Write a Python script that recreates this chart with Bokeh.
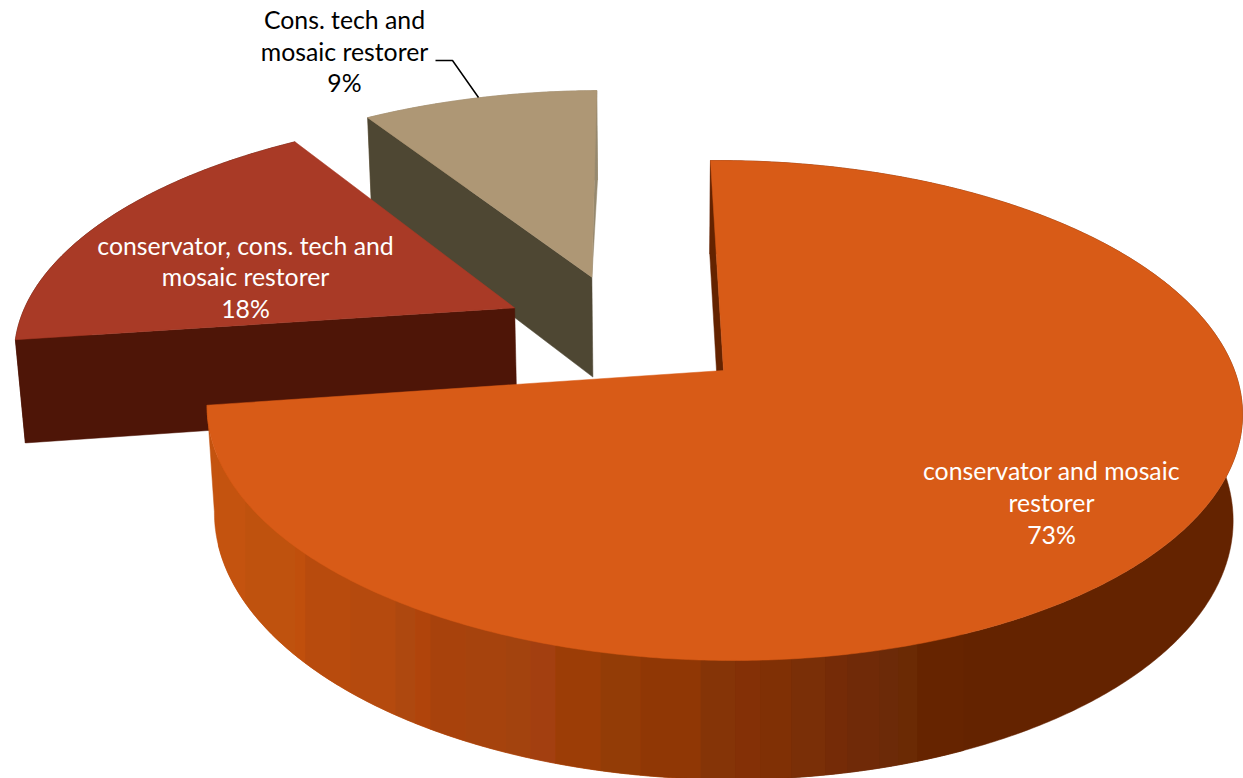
import numpy as np
from bokeh.embed import file_html
from bokeh.models import Range1d
from bokeh.plotting import figure
from bokeh.resources import INLINE

# Pie data, listed clockwise starting at the first slice
categories = ["conservator and mosaic restorer",
              "conservator, cons. tech and mosaic restorer",
              "Cons. tech and mosaic restorer"]
shares = [73, 18, 9]
start_angle = -0.8

# Exploded offset of each slice in disc units (across, away from viewer)
explode = [(0.0, 0.0), (-0.422, 0.268), (-0.268, 0.408)]

top_colors = ["#D85B17", "#A93A26", "#AE9775"]
wall_colors = ["#642300", "#4E1507", "#4E4733"]
rim_colors = ["#642300", "#4E1507", "#96896F"]

# Vertical shading bands on the front of the large slice's rim
rim_band_edges = [218, 245, 295, 305, 350, 395, 415, 430, 465, 505, 530, 555, 600, 640,
                  700, 735, 760, 791, 825, 847, 879, 898, 917, 963]
rim_band_colors = ["#C4530F", "#BF520E", "#C04F0C", "#B84B0D", "#B54A0E", "#AE480F",
                   "#B0440B", "#A8420C", "#A6430D", "#A3430E", "#A33F10", "#9C3D06",
                   "#933C06", "#903705", "#853407", "#843006", "#803005", "#7A2F07",
                   "#752B07", "#702A08", "#6C2A08", "#6B2A04", "#662400"]

# Label lines per slice
label_lines = [["conservator and mosaic", "restorer", "73%"],
               ["conservator, cons. tech and", "mosaic restorer", "18%"],
               ["Cons. tech and", "mosaic restorer", "9%"]]
label_colors = ["white", "white", "black"]
label_x = [1051, 245, 344]
label_y = [[470, 502, 534], [245, 276, 308], [19, 51, 82]]

# Camera parameters of the perspective view
CX, CY = 723.0, 370.0
AX, AY = 511.0, 243.6
SHEAR = 8.0
PERSP, DEPTH_PERSP, DEPTH, DEPTH_SKEW = 0.16, 0.016, 106.5, 1.0


def project(u, v, z=0.0):
    """Map disc coordinates (z = 0 on top, -1 on the base) to the canvas."""
    u, v = np.asarray(u, float), np.asarray(v, float)
    w = 1 + PERSP * v - DEPTH_PERSP * z
    return CX + (AX * u - SHEAR * v + DEPTH_SKEW * z) / w, CY + (-AY * v - DEPTH * z) / w


p = figure(width=1243, height=778, output_backend="svg", toolbar_location=None,
           x_range=Range1d(0, 1243), y_range=Range1d(778, 0),
           min_border=0, outline_line_color=None, background_fill_color="white")
p.axis.visible = False
p.grid.visible = False


def solid(xs, ys, color):
    p.patch(xs, ys, fill_color=color, line_color=color, line_width=0.5)


# Angular extent of every slice
spans = [s / sum(shares) * 360 for s in shares]
starts = start_angle + np.cumsum([0] + spans[:-1])

# Painted back to front so nearer slices overlap farther ones
for i in [2, 1, 0]:
    a0, a1 = starts[i], starts[i] + spans[i]
    ox, oy = explode[i]
    th_deg = np.arange(a0, a1 + 0.25, 0.5)
    th_deg[-1] = a1
    th = np.radians(th_deg)
    u, v = ox + np.sin(th), oy + np.cos(th)
    xt, yt = project(u, v)
    xb, yb = project(u, v, -1)
    hx, hy = project(ox, oy)
    hbx, hby = project(ox, oy, -1)

    # Outer rim
    if i == 0:
        split = np.searchsorted(th_deg, 180)
        solid(np.r_[xt[:split + 1], xb[:split + 1][::-1]],
              np.r_[yt[:split + 1], yb[:split + 1][::-1]], rim_colors[0])
        solid(np.r_[xt[split:], xb[split:][::-1]],
              np.r_[yt[split:], yb[split:][::-1]], rim_band_colors[0])
        # Vertical bands between the top edge and the base curve; the top face hides the excess
        lo, hi = int(np.argmax(xb)), int(np.argmin(xb))
        front_x, front_y = xb[lo:hi + 1][::-1], yb[lo:hi + 1][::-1]
        tlo, thi = int(np.argmax(xt)), int(np.argmin(xt))
        top_x, top_y = xt[tlo:thi + 1][::-1], yt[tlo:thi + 1][::-1]
        for x0, x1, col in zip(rim_band_edges[:-1], rim_band_edges[1:], rim_band_colors):
            grid = np.arange(x0, x1 + 1, 2.0)
            grid[-1] = x1
            lower = np.interp(grid, front_x, front_y)
            upper = np.interp(grid, top_x, top_y) - 3
            solid(np.r_[grid, grid[::-1]], np.r_[lower, upper[::-1]], col)
    else:
        solid(np.r_[xt, xb[::-1]], np.r_[yt, yb[::-1]], rim_colors[i])

    # The far cut of the small slice only peeks out as a thin sliver
    if i == 2:
        solid([hx, xt[-1], xb[-1]], [hy, yt[-1], yb[-1]], rim_colors[i])

    # Cut wall at the slice's leading edge
    solid([hx, xt[0], xb[0], hbx], [hy, yt[0], yb[0], hby], wall_colors[i])

    # Top face
    solid(np.r_[hx, xt], np.r_[hy, yt], top_colors[i])

# Leader from the small slice's label to its top face
p.line([435, 452, 478], [60, 60, 97], line_color="black", line_width=1.5)

for lines, col, x, ys in zip(label_lines, label_colors, label_x, label_y):
    p.text([x] * len(lines), ys, text=lines, text_color=col, text_align="center",
           text_baseline="middle", text_font_size="24.8px", text_font={"value": "Lato"})

open("out.html", "w").write(file_html(p, INLINE))
